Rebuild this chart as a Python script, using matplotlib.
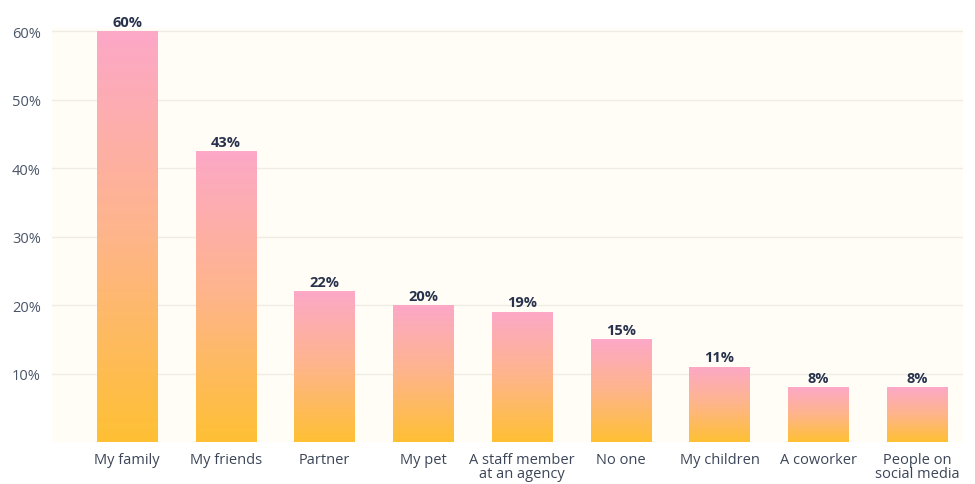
import matplotlib.pyplot as plt
import numpy as np
from matplotlib.colors import LinearSegmentedColormap

categories = ["My family", "My friends", "Partner", "My pet",
              "A staff member\nat an agency", "No one", "My children",
              "A coworker", "People on\nsocial media"]
values = [60, 42.5, 22, 20, 19, 15, 11, 8, 8]
value_labels = ["60%", "43%", "22%", "20%", "19%", "15%", "11%", "8%", "8%"]
yticks = [10, 20, 30, 40, 50, 60]
ytick_labels = ["10%", "20%", "30%", "40%", "50%", "60%"]

plt.rcParams['font.family'] = ['Open Sans', 'DejaVu Sans']

fig = plt.figure(figsize=(9.75, 4.85), dpi=100)
ax = fig.add_axes([0.0533, 0.0866, 0.9344, 0.8544])
ax.set_facecolor('#fffdf6')

# gradient: yellow at the bottom, pink at the top of each bar
cmap = LinearSegmentedColormap.from_list('bar', ['#fec034', '#ffb58a', '#fca8c8'])
grad = np.linspace(0, 1, 256).reshape(-1, 1)

x = np.arange(len(categories))
bars = ax.bar(x, values, width=0.61, color='none', zorder=2)
for bar in bars:
    x0, y0 = bar.get_x(), bar.get_y()
    w, h = bar.get_width(), bar.get_height()
    im = ax.imshow(grad, cmap=cmap, origin='lower', aspect='auto',
                   extent=[x0, x0 + w, y0, y0 + h], zorder=2)
    im.set_clip_path(bar)

for xi, v, lab in zip(x, values, value_labels):
    ax.text(xi, v + 0.35, lab, ha='center', va='bottom', fontsize=10.5,
            fontweight='bold', color='#28324d')

ax.set_xlim(-0.76, 8.466)
ax.set_ylim(0, 60.5)
ax.set_xticks(x)
ax.set_xticklabels(categories, fontsize=10.5, color='#3c4658', linespacing=0.95)
ax.set_yticks(yticks)
ax.set_yticklabels(ytick_labels, fontsize=10.5, color='#4a5568')
ax.tick_params(axis='both', length=0)
ax.tick_params(axis='x', pad=7)
ax.tick_params(axis='y', pad=8)
ax.grid(axis='y', color='#efede3', linewidth=1, zorder=0)
ax.set_axisbelow(True)
for s in ax.spines.values():
    s.set_visible(False)

fig.savefig('out.png', dpi=100, facecolor='white')
